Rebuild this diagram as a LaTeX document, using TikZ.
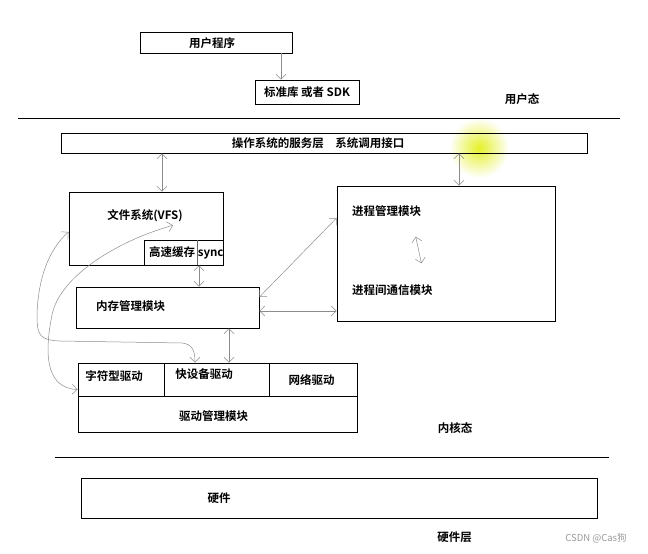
\documentclass[tikz,border=0pt]{standalone}
\usepackage{fontspec}
\setmainfont{Noto Sans CJK SC}[BoldFont={Noto Sans CJK SC Bold}]
\usetikzlibrary{arrows.meta}
\begin{document}
\begin{tikzpicture}[x=1pt,y=-1pt,
  box/.style={draw, line width=0.9pt, inner sep=0pt},
  lbl/.style={font=\fontsize{11.5}{13}\selectfont\bfseries, inner sep=0pt},
  conn/.style={draw=black!45, line width=0.5pt, {Straight Barb[length=5pt,width=10pt]}-{Straight Barb[length=5pt,width=10pt]}},
  oneway/.style={draw=black!45, line width=0.5pt, -{Straight Barb[length=5pt,width=10pt]}},
  sep/.style={line width=1pt}]
\path[use as bounding box, fill=white] (0,0) rectangle (648,554);

% cursor highlight
\shade[inner color={rgb,255:red,228;green,240;blue,40}, outer color=white] (479,148) circle (30);

% user space
\node[box, minimum width=152pt, minimum height=21pt] (user) at (216,42.5) {};
\node[lbl] (usertxt) at (212,43) {用户程序};
\node[box, lbl, minimum width=104pt, minimum height=24pt] (sdk) at (307,92) {标准库 或者 SDK};
\node[lbl] (ustate) at (522,99) {用户态};
\draw[sep] (18,118) -- (620,118);

% kernel
\node[box, minimum width=526pt, minimum height=20pt] (svc) at (324,143) {};
\node[lbl] (svctxt) at (318,143.5) {操作系统的服务层\quad 系统调用接口};

\node[box, minimum width=154pt, minimum height=73pt] (fs) at (146,228.5) {};
\node[lbl] (fstxt) at (145,216) {文件系统(VFS)};
\node[box, minimum width=79pt, minimum height=25pt] (cache) at (183.5,252.5) {};
\draw[line width=0.5pt, black!60] ([xshift=13.5pt]cache.north) -- ([xshift=13.5pt]cache.south);
\node[lbl, anchor=west] (cachetxt) at (149,253) {高速缓存 sync};

\node[box, minimum width=218pt, minimum height=135pt] (proc) at (446,253.5) {};
\node[lbl, anchor=west] (pm) at (352,211) {进程管理模块};
\node[lbl, anchor=west] (ipc) at (352,290) {进程间通信模块};

\node[box, minimum width=183pt, minimum height=41pt] (mem) at (167.5,307.5) {};
\node[lbl, anchor=west] (memtxt) at (96,306) {内存管理模块};

\node[box, minimum width=86pt, minimum height=33pt] (chr) at (121,379.5) {};
\node[lbl] (chrtxt) at (114,376) {字符型驱动};
\node[box, minimum width=105pt, minimum height=33pt] (blk) at (216.5,379.5) {};
\node[lbl] (blktxt) at (204,374) {快设备驱动};
\node[box, minimum width=88pt, minimum height=33pt] (net) at (313,379.5) {};
\node[lbl] (nettxt) at (311.5,380) {网络驱动};
\node[box, minimum width=279pt, minimum height=36pt] (drv) at (217.5,414) {};
\node[lbl] (drvtxt) at (213.5,416) {驱动管理模块};

\node[lbl] (kstate) at (455,428) {内核态};
\draw[sep] (55,457) -- (609,457);

% hardware
\node[box, minimum width=516pt, minimum height=40pt] (hw) at (339,498) {};
\node[lbl] (hwtxt) at (219,498) {硬件};
\node[lbl] (hstate) at (454.5,537) {硬件层};
\node[text=black!40, font=\fontsize{9.5}{11}\selectfont, inner sep=0pt] (wm) at (596,538) {CSDN @Cas狗};

% connectors
\draw[oneway] ([xshift=65pt]user.south) -- ([xshift=65pt]user.south |- sdk.north);
\draw[conn] ([xshift=16pt]fs.north) -- ([xshift=16pt]fs.north |- svc.south);
\draw[conn] ([xshift=13pt]proc.north) -- ([xshift=13pt]proc.north |- svc.south);
\draw[conn] ([xshift=15.5pt]cache.south) -- ([xshift=15.5pt]cache.south |- mem.north);
\draw[conn] ([yshift=10.5pt]mem.east) -- ([yshift=35.5pt]proc.west);
\draw[conn] ([yshift=-3.5pt]mem.east) -- ([yshift=-3.5pt]mem.east -| proc.west);
\draw[conn] ([xshift=61.5pt]mem.south) -- ([xshift=61.5pt]mem.south |- blk.north);
\draw[conn] ([xshift=29pt,yshift=-20pt]pm.south) -- ([xshift=29pt,yshift=21pt]ipc.north);
\draw[conn] ([yshift=-3.5pt]fs.west) .. controls (48,250) and (38,280) .. (37,315)
  .. controls (37,336) and (40,340) .. (60,341) -- (182,343)
  .. controls (192,344) and (195,350) .. ([xshift=-21.5pt]blk.north);
\draw[conn] ([xshift=28pt,yshift=-3pt]fstxt.south) .. controls (120,240) and (60,275) .. (52,315)
  .. controls (45,350) and (44,388) .. ([yshift=-10pt]chr.west);
\end{tikzpicture}
\end{document}
